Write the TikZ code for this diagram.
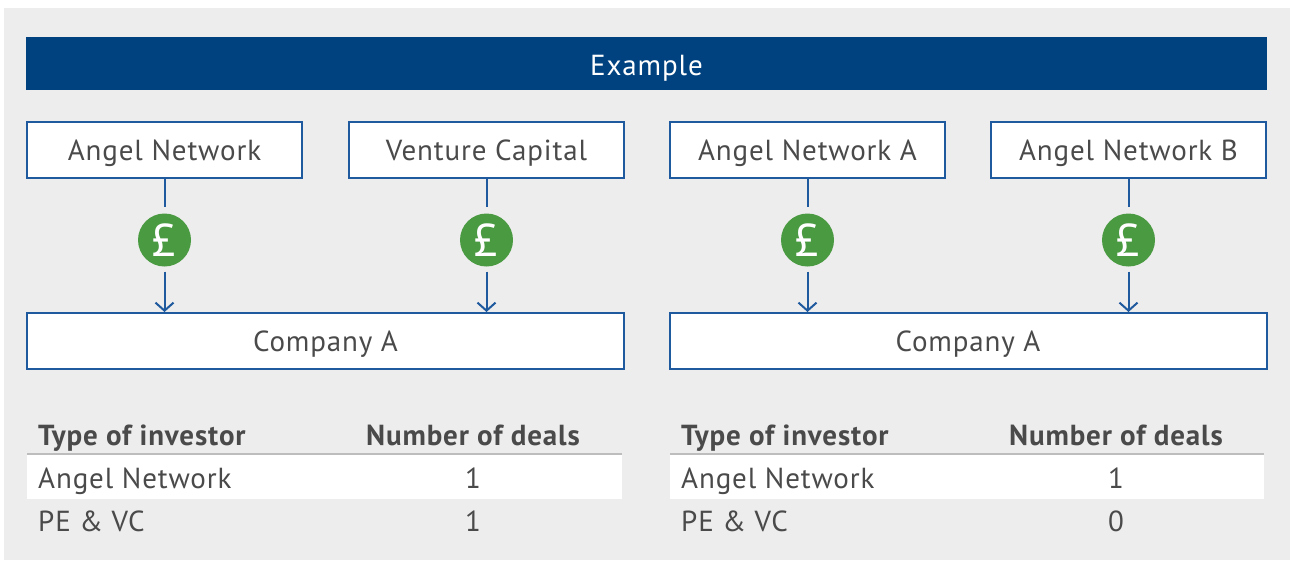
\documentclass[tikz,border=0pt]{standalone}
\usepackage{fontspec}
\setmainfont[LetterSpace=3]{PT Sans}
\usetikzlibrary{arrows.meta}
\definecolor{navy}{HTML}{00427F}
\definecolor{boxblue}{HTML}{1F5A9E}
\definecolor{poundgreen}{HTML}{4A9A41}
\definecolor{panel}{HTML}{EDEDED}
\definecolor{txt}{HTML}{4A4A4A}
\definecolor{rule}{HTML}{BDBDBD}
\tikzset{
  party/.style={draw=boxblue, line width=2pt, fill=white, minimum height=56pt, inner sep=0pt, text=txt, text height=20pt, text depth=0pt},
  pound/.style={circle, fill=poundgreen, minimum size=53pt, inner sep=0pt, text=white, font=\fontsize{46}{46}\selectfont},
  flow/.style={draw=boxblue, line width=2pt},
  tabhead/.style={text=txt, font=\fontsize{29}{30}\selectfont\bfseries, inner sep=0pt},
  tabcell/.style={text=txt, inner sep=0pt}
}
\begin{document}
\begin{tikzpicture}[x=1pt, y=-1pt, >={Straight Barb[length=8pt,width=18pt]}, font=\fontsize{29}{30}\selectfont]
\useasboundingbox (0,0) rectangle (1290,560);
\fill[panel] (4,8) rectangle (1290,560);
\fill[navy] (26,37) rectangle (1267,90);
\node[text=white, text height=20pt, text depth=0pt, inner sep=0pt] (title) at (646.5,65) {Example};

% left example
\node[party, minimum width=275pt] (an) at (164.5,150) {Angel Network};
\node[party, minimum width=275pt] (vc) at (486.5,150) {Venture Capital};
\node[party, minimum width=597pt] (ca) at (325.5,341) {Company A};
\node[pound] (p1) at (164.5,240) {£};
\node[pound] (p2) at (486.5,240) {£};
\draw[flow, shorten >=6pt] (an) -- (p1);
\draw[flow, shorten >=6pt] (vc) -- (p2);
\draw[flow, ->, shorten <=5pt] (p1) -- (p1 |- ca.north);
\draw[flow, ->, shorten <=5pt] (p2) -- (p2 |- ca.north);

% right example
\node[party, minimum width=275pt] (ana) at (807.5,150) {Angel Network A};
\node[party, minimum width=275pt] (anb) at (1128.5,150) {Angel Network B};
\node[party, minimum width=597pt] (cb) at (968,341) {Company A};
\node[pound] (p3) at (807.5,240) {£};
\node[pound] (p4) at (1128.5,240) {£};
\draw[flow, shorten >=6pt] (ana) -- (p3);
\draw[flow, shorten >=6pt] (anb) -- (p4);
\draw[flow, ->, shorten <=5pt] (p3) -- (p3 |- cb.north);
\draw[flow, ->, shorten <=5pt] (p4) -- (p4 |- cb.north);

% tables
\fill[white] (27,455) rectangle (622,499);
\draw[rule, line width=2pt] (27,454) -- (622,454);
\node[tabhead, anchor=base west] (th1) at (38,445) {Type of investor};
\node[tabhead, anchor=base] (th2) at (473,445) {Number of deals};
\node[tabcell, anchor=base west] (r1) at (38,488) {Angel Network};
\node[tabcell, anchor=base] (n1) at (473,488) {1};
\node[tabcell, anchor=base west] (r2) at (38,531) {PE \& VC};
\node[tabcell, anchor=base] (n2) at (473,531) {1};

\fill[white] (670,455) rectangle (1264,499);
\draw[rule, line width=2pt] (670,454) -- (1264,454);
\node[tabhead, anchor=base west] (th3) at (681,445) {Type of investor};
\node[tabhead, anchor=base] (th4) at (1116,445) {Number of deals};
\node[tabcell, anchor=base west] (r3) at (681,488) {Angel Network};
\node[tabcell, anchor=base] (n3) at (1116,488) {1};
\node[tabcell, anchor=base west] (r4) at (681,531) {PE \& VC};
\node[tabcell, anchor=base] (n4) at (1116,531) {0};
\end{tikzpicture}
\end{document}
